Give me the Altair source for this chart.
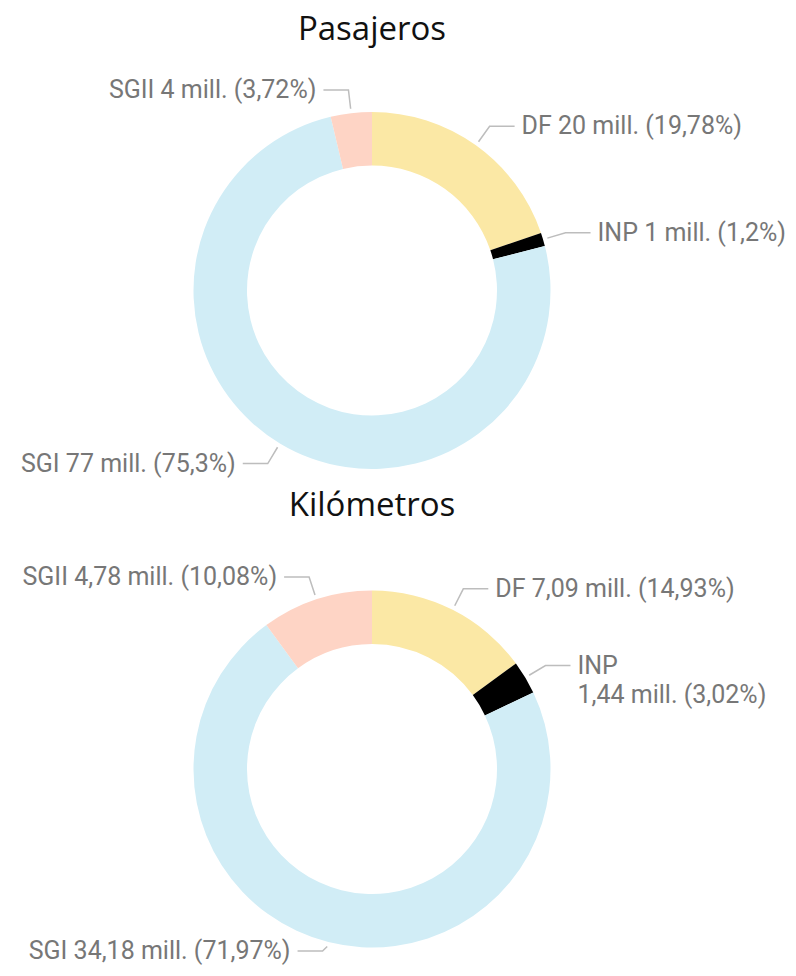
import math
import altair as alt
import pandas as pd

# ---------------- data ----------------
categories = ["DF", "INP", "SGI", "SGII"]
colors = ["#FBE8A5", "#000000", "#D1EDF6", "#FED4C5"]

titles = ["Pasajeros", "Kilómetros"]

pas_values = [20, 1, 77, 4]          # millones
pas_pct = [19.78, 1.2, 75.3, 3.72]    # %

km_values = [7.09, 1.44, 34.18, 4.78]  # millones
km_pct = [14.93, 3.02, 71.97, 10.08]   # %

# ---------------- layout (page pixel coordinates) ----------------
W, H = 780, 960
centers = [(372, 290.5), (372, 769)]
title_y = [40, 516]
R_OUT, R_IN = 178.5, 125
R_START, R_ELBOW, HSEG, GAP = 183, 202, 25, 7
MAX_LABEL_Y = 8 + H - 17
wrap = {("Kilómetros", "INP")}


def fmt(v):
    s = f"{v:g}"
    return s.replace(".", ",")


arc_rows, line_rows, label_rows = [], [], []
for panel, (cx, cy), vals, pcts in zip(titles, centers, [pas_values, km_values], [pas_pct, km_pct]):
    total = sum(pcts)
    cum = 0.0
    for cat, v, p in zip(categories, vals, pcts):
        t0 = cum / total
        cum += p
        t1 = cum / total
        arc_rows.append(dict(panel=panel, cat=cat, t0=t0, t1=t1, cx=cx, cy=cy))
        mid = (t0 + t1) / 2 * 2 * math.pi
        s, c = math.sin(mid), math.cos(mid)
        x0, y0 = cx + R_START * s, cy - R_START * c
        x1, y1 = cx + R_ELBOW * s, min(cy - R_ELBOW * c, MAX_LABEL_Y)
        side = 1 if s >= 0 else -1
        x2 = x1 + side * HSEG
        key = panel + cat
        for i, (xx, yy) in enumerate([(x0, y0), (x1, y1), (x2, y1)]):
            line_rows.append(dict(key=key, order=i, x=xx, y=yy))
        sep = "\n" if (panel, cat) in wrap else " "
        txt = f"{cat}{sep}{fmt(v)} mill. ({fmt(p)}%)"
        label_rows.append(dict(x=x2 + side * GAP, y=y1, text=txt,
                               side="left" if side > 0 else "right"))

arcs = pd.DataFrame(arc_rows)
lines = pd.DataFrame(line_rows)
labels = pd.DataFrame(label_rows)
heads = pd.DataFrame(dict(text=titles, x=[c[0] for c in centers], y=title_y))

xs = alt.Scale(domain=[8, 8 + W])
ys = alt.Scale(domain=[8, 8 + H], reverse=True)

arc_layer = alt.Chart(arcs).mark_arc(innerRadius=R_IN, outerRadius=R_OUT, strokeWidth=0).encode(
    x=alt.X("cx:Q", scale=xs, axis=None),
    y=alt.Y("cy:Q", scale=ys, axis=None),
    theta=alt.Theta("t0:Q", scale=alt.Scale(domain=[0, 1], range=[0, 2 * math.pi]), stack=None),
    theta2="t1:Q",
    color=alt.Color("cat:N", scale=alt.Scale(domain=categories, range=colors), legend=None),
)

line_layer = alt.Chart(lines).mark_line(color="#BDBDBD", strokeWidth=1.5).encode(
    x=alt.X("x:Q", scale=xs, axis=None),
    y=alt.Y("y:Q", scale=ys, axis=None),
    detail="key:N",
    order="order:Q",
)

text_common = dict(baseline="middle", font="Roboto", fontSize=25, color="#777777",
                   lineBreak="\n", lineHeight=29)

left_text = alt.Chart(labels).transform_filter(alt.datum.side == "left").mark_text(
    align="left", **text_common).encode(
    x=alt.X("x:Q", scale=xs, axis=None),
    y=alt.Y("y:Q", scale=ys, axis=None),
    text="text:N",
)
right_text = alt.Chart(labels).transform_filter(alt.datum.side == "right").mark_text(
    align="right", **text_common).encode(
    x=alt.X("x:Q", scale=xs, axis=None),
    y=alt.Y("y:Q", scale=ys, axis=None),
    text="text:N",
)

title_layer = alt.Chart(heads).mark_text(
    align="center", baseline="alphabetic", font="Open Sans", fontSize=33, color="#111111"
).encode(
    x=alt.X("x:Q", scale=xs, axis=None),
    y=alt.Y("y:Q", scale=ys, axis=None),
    text="text:N",
)

chart = alt.layer(arc_layer, line_layer, left_text, right_text, title_layer).properties(
    width=W, height=H, padding=0, autosize=alt.AutoSizeParams(type="none")
).configure_view(stroke=None)

chart.save("out.html", embed_options={"renderer": "svg", "actions": False})
